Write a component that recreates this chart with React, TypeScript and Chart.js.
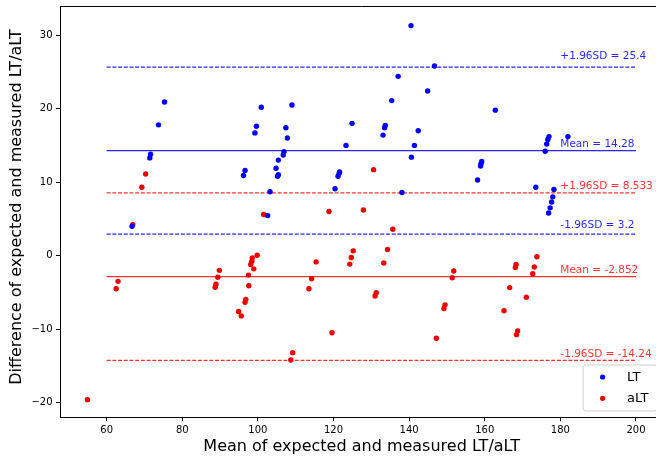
import React, { useEffect, useRef } from "react";
import { Chart, registerables } from "chart.js";

Chart.register(...registerables);

// LT series (mean, difference)
const ltX = [66.7, 71.4, 71.6, 73.7, 75.3, 96.2, 96.6, 99.2, 99.6, 100.9, 102.6, 103.2, 104.8, 105.2, 105.4, 105.4, 106.7, 106.9, 107.4, 107.8, 109.0, 120.4, 121.2, 121.5, 121.6, 123.3, 124.9, 133.1, 133.5, 133.7, 135.4, 137.1, 138.1, 140.5, 140.6, 141.4, 142.4, 144.9, 146.7, 158.1, 158.9, 159.0, 159.2, 162.8, 173.5, 176.0, 176.4, 176.7, 177.0, 182.0, 176.9, 177.3, 177.7, 178.0, 178.3];
const ltY = [4.0, 13.3, 13.8, 17.8, 20.9, 10.9, 11.6, 16.7, 17.6, 20.2, 5.45, 8.7, 11.9, 10.8, 11.0, 13.0, 13.7, 14.15, 17.4, 16.0, 20.5, 9.1, 10.8, 11.2, 11.4, 15.0, 18.0, 16.4, 17.4, 17.7, 21.1, 24.4, 8.6, 31.3, 13.4, 15.0, 17.0, 22.4, 25.8, 10.3, 12.2, 12.5, 12.8, 19.8, 9.3, 14.2, 15.2, 15.8, 16.2, 16.2, 5.8, 6.5, 7.3, 8.0, 9.0];

// aLT series (mean, difference)
const altX = [54.9, 62.5, 63.0, 66.9, 69.3, 70.3, 88.7, 88.9, 89.4, 89.8, 94.9, 95.6, 96.6, 96.8, 97.5, 97.6, 98.1, 98.4, 98.5, 98.9, 99.8, 101.5, 108.7, 109.2, 113.5, 114.2, 115.4, 118.8, 119.6, 124.3, 124.7, 125.2, 127.9, 130.6, 131.0, 131.3, 133.3, 134.3, 135.7, 147.2, 149.2, 149.5, 151.4, 151.8, 165.1, 166.6, 168.1, 168.3, 168.4, 168.7, 171.0, 172.7, 173.1, 173.8];
const altY = [-19.6, -4.5, -3.5, 4.2, 9.3, 11.1, -4.3, -3.9, -2.95, -2.0, -7.6, -8.2, -6.35, -5.95, -2.65, -4.1, -1.2, -0.75, -0.3, -1.8, 0.05, 5.6, -14.2, -13.2, -4.5, -3.15, -0.85, 6.0, -10.5, -1.15, -0.25, 0.65, 6.2, 11.7, -5.5, -5.05, -1.0, 0.85, 3.6, -11.25, -7.2, -6.7, -3.0, -2.1, -7.5, -4.35, -1.6, -1.2, -10.75, -10.25, -5.65, -2.45, -1.55, -0.15];

const xTicks = [60, 80, 100, 120, 140, 160, 180, 200];
const yTicks = [-20, -10, 0, 10, 20, 30];

const lineStartX = 60;
const lineEndX = 200;
const labelX = 180;

const ltLineValues = [25.65, 14.28, 2.92];
const ltLineDashed = [true, false, true];
const ltLabels = ["+1.96SD = 25.4", "Mean = 14.28", "-1.96SD = 3.2"];
const ltLabelY = [26.75, 14.72, 3.7];

const altLineValues = [8.533, -2.852, -14.24];
const altLineDashed = [true, false, true];
const altLabels = ["+1.96SD = 8.533", "Mean = -2.852", "-1.96SD = -14.24"];
const altLabelY = [9.05, -2.42, -13.77];

const BLUE = "#0000ff";
const RED = "#ee0000";
const BLUE_LINE = "rgba(0,0,255,0.85)";
const RED_LINE = "rgba(255,0,0,0.8)";
const FONT = "'DejaVu Sans', sans-serif";

const W = 672;
const H = 459;

export default function App() {
  const ref = useRef<HTMLCanvasElement | null>(null);

  useEffect(() => {
    document.body.style.margin = "0";
    document.body.style.overflow = "hidden";
    const canvas = ref.current;
    if (!canvas) return;

    const lineDatasets: any[] = [];
    ltLineValues.forEach((v, i) => {
      lineDatasets.push({
        type: "line",
        label: "_lt" + i,
        data: [{ x: lineStartX, y: v }, { x: lineEndX, y: v }],
        borderColor: BLUE_LINE,
        borderWidth: 1.25,
        borderDash: ltLineDashed[i] ? [4, 1.7] : [],
        pointRadius: 0,
        showLine: true,
        fill: false,
        order: 5,
      });
    });
    altLineValues.forEach((v, i) => {
      lineDatasets.push({
        type: "line",
        label: "_alt" + i,
        data: [{ x: lineStartX, y: v }, { x: lineEndX, y: v }],
        borderColor: RED_LINE,
        borderWidth: 1.25,
        borderDash: altLineDashed[i] ? [4, 1.7] : [],
        pointRadius: 0,
        showLine: true,
        fill: false,
        order: 5,
      });
    });

    const overlay = {
      id: "overlay",
      afterDraw(chart: any) {
        const { ctx, chartArea } = chart;
        const xs = chart.scales.x;
        const ys = chart.scales.y;
        ctx.save();
        // top & right spines
        ctx.strokeStyle = "#000";
        ctx.lineWidth = 1;
        ctx.beginPath();
        ctx.moveTo(chartArea.left, chartArea.top + 0.5);
        ctx.lineTo(chartArea.right, chartArea.top + 0.5);
        ctx.lineTo(chartArea.right, chartArea.bottom);
        ctx.stroke();

        // line labels
        ctx.font = `10.5px ${FONT}`;
        ctx.textAlign = "left";
        ctx.textBaseline = "alphabetic";
        ctx.fillStyle = BLUE_LINE;
        ltLabels.forEach((t, i) => {
          ctx.fillText(t, xs.getPixelForValue(labelX), ys.getPixelForValue(ltLabelY[i]));
        });
        ctx.fillStyle = RED_LINE;
        altLabels.forEach((t, i) => {
          ctx.fillText(t, xs.getPixelForValue(labelX), ys.getPixelForValue(altLabelY[i]));
        });

        // legend
        const boxW = 74;
        const boxH = 46;
        const bx = chartArea.right - 6.3 - boxW;
        const by = chartArea.bottom - 6.3 - boxH;
        ctx.beginPath();
        const r = 3;
        ctx.moveTo(bx + r, by);
        ctx.lineTo(bx + boxW - r, by);
        ctx.arcTo(bx + boxW, by, bx + boxW, by + r, r);
        ctx.lineTo(bx + boxW, by + boxH - r);
        ctx.arcTo(bx + boxW, by + boxH, bx + boxW - r, by + boxH, r);
        ctx.lineTo(bx + r, by + boxH);
        ctx.arcTo(bx, by + boxH, bx, by + boxH - r, r);
        ctx.lineTo(bx, by + r);
        ctx.arcTo(bx, by, bx + r, by, r);
        ctx.closePath();
        ctx.fillStyle = "rgba(255,255,255,0.85)";
        ctx.fill();
        ctx.strokeStyle = "#d0d0d0";
        ctx.lineWidth = 1;
        ctx.stroke();
        const legendSets = chart.data.datasets.slice(0, 2);
        ctx.font = `13px ${FONT}`;
        ctx.textBaseline = "middle";
        legendSets.forEach((ds: any, i: number) => {
          const cy = by + 12 + i * 21.3;
          ctx.beginPath();
          ctx.fillStyle = ds.backgroundColor;
          ctx.arc(bx + 19.5, cy, 2.6, 0, Math.PI * 2);
          ctx.fill();
          ctx.fillStyle = "#000";
          ctx.fillText(ds.label, bx + 44, cy + 0.5);
        });

        // axis titles
        ctx.fillStyle = "#000";
        ctx.font = `16px ${FONT}`;
        ctx.textAlign = "center";
        ctx.textBaseline = "middle";
        ctx.fillText("Mean of expected and measured LT/aLT", (chartArea.left + chartArea.right) / 2, 447);
        ctx.translate(17, 207);
        ctx.rotate(-Math.PI / 2);
        ctx.fillText("Difference of expected and measured LT/aLT", 0, 0);
        ctx.restore();
      },
    };

    const fmt = (v: number) => (v < 0 ? "\u2212" + Math.abs(v) : String(v));

    const chart = new Chart(canvas, {
      type: "scatter",
      data: {
        datasets: [
          {
            label: "LT",
            data: ltX.map((x, i) => ({ x, y: ltY[i] })),
            backgroundColor: BLUE,
            borderWidth: 0,
            pointRadius: 2.7,
            order: 1,
          },
          {
            label: "aLT",
            data: altX.map((x, i) => ({ x, y: altY[i] })),
            backgroundColor: RED,
            borderWidth: 0,
            pointRadius: 2.7,
            order: 2,
          },
          ...lineDatasets,
        ],
      },
      options: {
        responsive: false,
        animation: false,
        devicePixelRatio: 1,
        layout: { padding: { top: 6, right: 8.6, left: 0, bottom: 0 } },
        plugins: {
          legend: { display: false },
          tooltip: { enabled: false },
        },
        scales: {
          x: {
            type: "linear",
            min: 47.65,
            max: 207.26,
            afterBuildTicks: (s: any) => {
              s.ticks = xTicks.map((v) => ({ value: v }));
            },
            afterFit: (s: any) => {
              s.height = 41.7;
              s.paddingLeft = 0;
              s.paddingRight = 0;
            },
            ticks: {
              color: "#000",
              font: { family: FONT, size: 10 },
              padding: 3,
              maxRotation: 0,
              callback: (v: any) => fmt(Number(v)),
            },
            grid: {
              display: true,
              drawOnChartArea: false,
              drawTicks: true,
              tickLength: 4,
              color: "#000",
            },
            border: { display: true, color: "#000", width: 1 },
          },
          y: {
            type: "linear",
            min: -22.0,
            max: 33.97,
            afterBuildTicks: (s: any) => {
              s.ticks = yTicks.map((v) => ({ value: v }));
            },
            afterFit: (s: any) => {
              s.width = 60;
              s.paddingTop = 0;
              s.paddingBottom = 0;
            },
            ticks: {
              color: "#000",
              font: { family: FONT, size: 10 },
              padding: 3.5,
              callback: (v: any) => fmt(Number(v)),
            },
            grid: {
              display: true,
              drawOnChartArea: false,
              drawTicks: true,
              tickLength: 4,
              color: "#000",
            },
            border: { display: true, color: "#000", width: 1 },
          },
        },
      },
      plugins: [overlay],
    } as any);

    return () => {
      chart.destroy();
    };
  }, []);

  return (
    <div style={{ position: "fixed", left: 0, top: 0, width: W, height: H, background: "#fff" }}>
      <canvas ref={ref} width={W} height={H} style={{ width: W, height: H, display: "block" }} />
    </div>
  );
}
